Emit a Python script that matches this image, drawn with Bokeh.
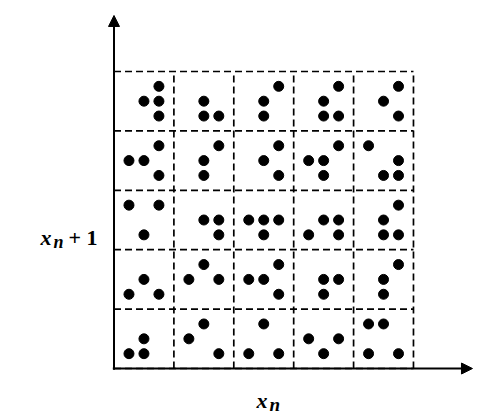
from bokeh.plotting import figure
from bokeh.models import Range1d, Arrow, NormalHead, ColumnDataSource
from bokeh.core.properties import value
from bokeh.embed import file_html
from bokeh.resources import INLINE

# 5x5 grid of cells; each cell holds dots on a 3x3 sub-grid.
# Patterns: 9 chars, sub-rows top->bottom, sub-columns left->right ('#' = dot)
grid_n = 5
cell_patterns = {
    4: ["..#.##..#", "....#..##", "..#.#..#.", "..#.#..##", "..#.#...#"],
    3: ["..###...#", "..#.#..#.", "..#.#...#", "..###..#.", "#....#.##"],
    2: ["#.#....#.", "....##..#", "...###.#.", "....###.#", "..#.#..##"],
    1: ["....#.#.#", ".#.#.#...", "..###...#", "....##.#.", "..#.#..#."],
    0: ["....#.##.", ".#.#....#", ".#....#.#", "...#.#.#.", "##....#.#"],
}
sub_pos = [0.25, 0.5, 0.75]
x_label = "x"
x_sub = "n"
y_label = "x"
y_sub = "n"
y_tail = "+ 1"

xs, ys = [], []
for row, pats in cell_patterns.items():
    for col, pat in enumerate(pats):
        for k, ch in enumerate(pat):
            if ch == "#":
                r, c = divmod(k, 3)
                xs.append(col + sub_pos[c])
                ys.append(row + sub_pos[2 - r])
dots = ColumnDataSource(dict(x=xs, y=ys))

p = figure(width=480, height=420, output_backend="svg", toolbar_location=None,
           x_range=Range1d(-1.895, 6.119), y_range=Range1d(-0.875, 6.195),
           min_border=0)
p.axis.visible = False
p.grid.visible = False
p.outline_line_color = None
p.background_fill_color = "white"

# dashed cell grid
lines = list(range(grid_n + 1))
p.segment(x0=lines, y0=[0] * len(lines), x1=lines, y1=[grid_n] * len(lines),
          line_color="black", line_width=1.7, line_dash="7 4")
p.segment(x0=[0] * len(lines), y0=lines, x1=[grid_n] * len(lines), y1=lines,
          line_color="black", line_width=1.7, line_dash="7 4")

# dots
p.scatter("x", "y", source=dots, size=10, color="black")

# axes with arrows
p.add_layout(Arrow(x_start=0, y_start=-0.02, x_end=0, y_end=5.943,
                   line_width=2, line_color="black",
                   end=NormalHead(size=11, fill_color="black", line_color="black")))
p.add_layout(Arrow(x_start=-0.02, y_start=0, x_end=5.985, y_end=0,
                   line_width=2, line_color="black",
                   end=NormalHead(size=11, fill_color="black", line_color="black")))

font = value("Liberation Serif")
# x_n label
p.text(x=[2.379], y=[-0.539], text=[x_label], text_font=font, text_font_size="22px",
       text_font_style="bold italic", text_baseline="alphabetic", text_align="left")
p.text(x=[2.379], y=[-0.539], text=[x_sub], text_font=font, text_font_size="19px",
       text_font_style="bold italic", text_baseline="alphabetic", text_align="left",
       x_offset=13, y_offset=4)
# x_n+1 label
p.text(x=[-1.227], y=[2.205], text=[y_label], text_font=font, text_font_size="22px",
       text_font_style="bold italic", text_baseline="alphabetic", text_align="left")
p.text(x=[-1.227], y=[2.205], text=[y_sub], text_font=font, text_font_size="18px",
       text_font_style="bold italic", text_baseline="alphabetic", text_align="left",
       x_offset=13, y_offset=4)
p.text(x=[-1.227], y=[2.205], text=[y_tail], text_font=font, text_font_size="22px",
       text_font_style="bold", text_baseline="alphabetic", text_align="left",
       x_offset=28)

open("out.html", "w").write(file_html(p, INLINE))
